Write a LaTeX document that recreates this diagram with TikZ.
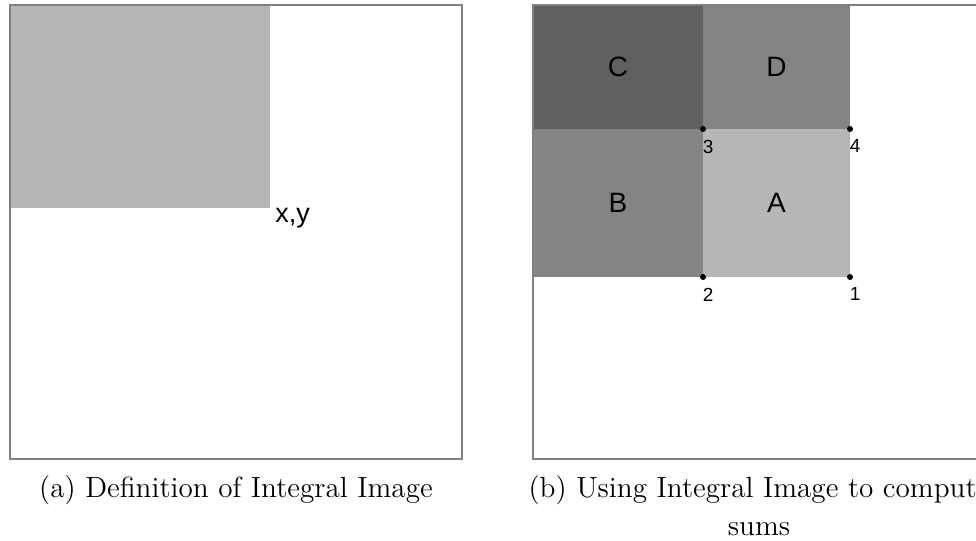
\documentclass[tikz,border=0pt]{standalone}
\usepackage{fontspec}
\newfontfamily\arialfont{Liberation Sans}
\usetikzlibrary{positioning}
\definecolor{framegray}{RGB}{128,128,128}
\definecolor{lightblock}{RGB}{182,182,182}
\definecolor{midblock}{RGB}{132,132,132}
\definecolor{darkblock}{RGB}{96,96,96}

\begin{document}
\begin{tikzpicture}[x=0.5pt, y=-0.5pt,
  panel/.style={draw=framegray, line width=1pt},
  block/.style={draw=none, inner sep=0pt, font=\arialfont\fontsize{14}{14}\selectfont,
    minimum width=85pt, minimum height=74pt},
  corner/.style={circle, fill=black, inner sep=0pt, minimum size=3pt},
  cornerlabel/.style={font=\arialfont\fontsize{9.5}{9.5}\selectfont, inner sep=0pt},
  coordlabel/.style={font=\arialfont\fontsize{13.5}{13.5}\selectfont, inner sep=0pt},
  caption/.style={font=\fontsize{14.6}{19}\selectfont, align=center, inner sep=0pt},
]
\useasboundingbox (0,0) rectangle (976,541);
\clip (0,0) rectangle (976,541);

% (a) definition
\fill[lightblock] (10,5) rectangle (270,208);
\coordinate (xy) at (270,208);
\node[coordlabel, anchor=base west] (xylabel) at (275,222) {x,y};
\draw[panel] (10,5) rectangle (462,459);

% (b) four regions
\node[block, fill=darkblock, minimum height=62pt] (C) at (618,67) {C};
\node[block, fill=midblock, minimum width=73.5pt, minimum height=62pt] (D) at (776.5,67) {D};
\node[block, fill=midblock] (B) at (618,203) {B};
\node[block, fill=lightblock, minimum width=73.5pt] (A) at (776.5,203) {A};
\draw[panel] (533,5) rectangle (985,459);

% corner points
\node[corner] (p3) at (703,129) {};
\node[corner] (p4) at (850,129) {};
\node[corner] (p2) at (703,277) {};
\node[corner] (p1) at (850,277) {};
\node[cornerlabel, below right=4pt and -1.5pt of p3] {3};
\node[cornerlabel, below right=4pt and -1.5pt of p4] {4};
\node[cornerlabel, below right=4pt and -1.5pt of p2] {2};
\node[cornerlabel, below right=4pt and -1.5pt of p1] {1};

% captions
\node[caption, anchor=base] (capa) at (236,497) {(a) Definition of Integral Image};
\node[caption, anchor=base] (capb) at (759,535) {(b) Using Integral Image to compute\\sums};
\end{tikzpicture}
\end{document}
